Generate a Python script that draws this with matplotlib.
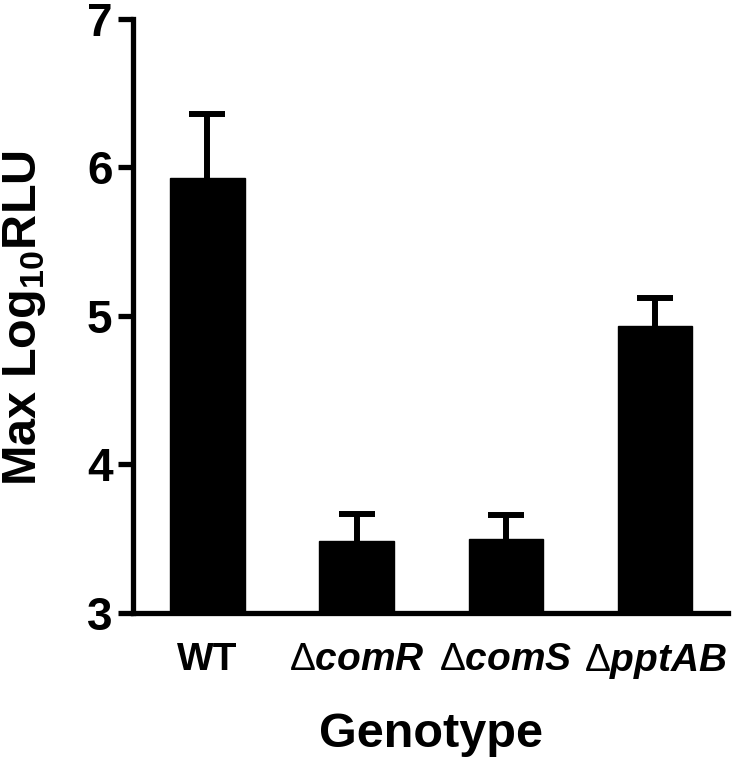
import numpy as np
import matplotlib
matplotlib.use('Agg')
import matplotlib.pyplot as plt

plt.rcParams['font.family'] = 'Liberation Sans'
plt.rcParams['font.weight'] = 'bold'
plt.rcParams['mathtext.fontset'] = 'custom'
plt.rcParams['mathtext.rm'] = 'Liberation Sans:weight=normal'
plt.rcParams['mathtext.bf'] = 'Liberation Sans:bold'
plt.rcParams['mathtext.bfit'] = 'Liberation Sans:italic:bold'

# values (Max log10 RLU, mean + upper SD)
genotypes = ['WT', r'$\Delta\mathbfit{comR}$', r'$\Delta\mathbfit{comS}$', r'$\Delta\mathbfit{pptAB}$']
means = [5.93, 3.485, 3.495, 4.93]
errs = [0.43, 0.18, 0.165, 0.19]

fig = plt.figure(figsize=(7.33, 7.61), dpi=100)
ax = fig.add_axes([0.1819, 0.1949, 0.811, 0.7802])

x = np.arange(len(genotypes))
lw = 3.8
ax.bar(x, np.array(means) - 3, bottom=3, width=0.5, color='black', edgecolor='black', zorder=3)
_, caps, _ = ax.errorbar(x, means, yerr=[np.zeros(len(errs)), errs], fmt='none', ecolor='black',
                         elinewidth=4.3, capsize=13.3, capthick=4.3, zorder=2)
caps[0].set_visible(False)  # one-sided bars: no cap at the mean

ax.set_xlim(-0.497, 3.487)
ax.set_ylim(3, 7)
ax.set_yticks([3, 4, 5, 6, 7])

for s in ['top', 'right']:
    ax.spines[s].set_visible(False)
for s in ['left', 'bottom']:
    ax.spines[s].set_linewidth(lw)
    ax.spines[s].set_zorder(4)

ax.tick_params(axis='y', length=11, width=lw, labelsize=33, pad=4)
ax.tick_params(axis='x', length=0, labelsize=28, pad=21)
ax.set_xticks(x)
ax.set_xticklabels(genotypes)

ax.set_ylabel(r'Max Log$_{\mathbf{10}}$RLU', fontsize=35, fontweight='bold')
ax.yaxis.set_label_coords(-0.1435, 0.497)
ax.set_xlabel('Genotype', fontsize=35, fontweight='bold', va='baseline')
ax.xaxis.set_label_coords(0.5, -0.226)

fig.savefig('out.png', dpi=100)
